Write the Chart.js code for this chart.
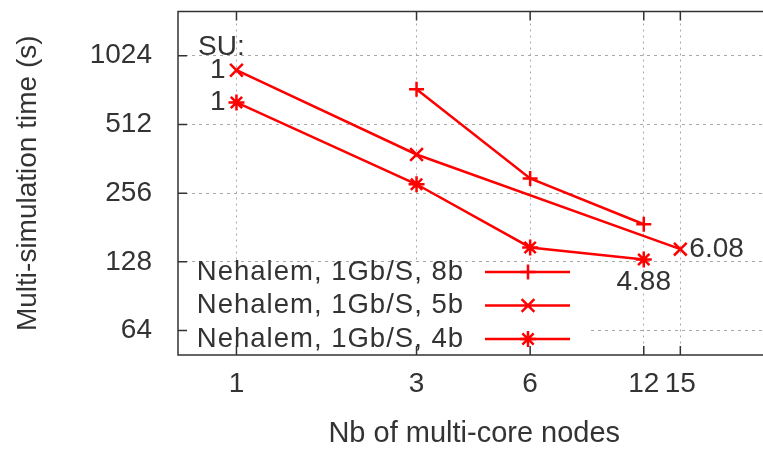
<!DOCTYPE html>
<html>
<head>
<meta charset="utf-8">
<script src="https://cdn.jsdelivr.net/npm/chart.js@4/dist/chart.umd.js"></script>
<style>
  html, body { margin: 0; padding: 0; overflow: hidden; background: #fff; }
  #multiSim { display: block; width: 782px; height: 451px; }
</style>
</head>
<body>
<canvas id="multiSim" width="782" height="451"></canvas>
<script>
// datos
const nodos = [1, 3, 6, 12, 15];
const ticksY = [64, 128, 256, 512, 1024];
const etiquetas = ['Nehalem, 1Gb/S, 8b', 'Nehalem, 1Gb/S, 5b', 'Nehalem, 1Gb/S, 4b'];
const tiempos8b = [null, 730, 297, 187, null];
const tiempos5b = [885, 378, null, null, 145.5];
const tiempos4b = [639, 280, 148, 131, null];
const su5b = ['1', null, null, null, '6.08'];
const su4b = ['1', null, null, '4.88', null];

const ROJO = '#ff0000';
const TEXTO = '#333333';
const FUENTE = 'Liberation Sans';
const INVISIBLE = 'rgba(0,0,0,0)';

function puntos(valores) {
  return nodos.map((x, i) => ({ x: x, y: valores[i] })).filter(p => p.y !== null);
}

function dibujarMarca(ctx, estilo, x, y, r) {
  ctx.beginPath();
  if (estilo === 'cross' || estilo === 'star') {
    ctx.moveTo(x - r, y); ctx.lineTo(x + r, y);
    ctx.moveTo(x, y - r); ctx.lineTo(x, y + r);
  }
  if (estilo === 'crossRot' || estilo === 'star') {
    const d = r * 0.707;
    ctx.moveTo(x - d, y - d); ctx.lineTo(x + d, y + d);
    ctx.moveTo(x - d, y + d); ctx.lineTo(x + d, y - d);
  }
  ctx.stroke();
}

const estilosGnuplot = {
  id: 'estilosGnuplot',
  afterDatasetsDraw(chart) {
    const ctx = chart.ctx;
    const a = chart.chartArea;
    const sx = chart.scales.x, sy = chart.scales.y;
    ctx.save();

    // leyenda dentro del area
    ctx.fillStyle = '#fff';
    ctx.fillRect(a.left + 2, a.bottom - 93, 407, 92);
    ctx.font = '27.5px "' + FUENTE + '"';
    ctx.letterSpacing = '1px';
    ctx.textAlign = 'right';
    ctx.textBaseline = 'middle';
    chart.data.datasets.forEach((ds, i) => {
      const yy = a.bottom - 83 + i * 33.5;
      ctx.fillStyle = TEXTO;
      ctx.fillText(ds.label, 464, yy);
      ctx.strokeStyle = ROJO;
      ctx.lineWidth = 2.5;
      ctx.beginPath();
      ctx.moveTo(485, yy); ctx.lineTo(570, yy);
      ctx.stroke();
      dibujarMarca(ctx, ds.pointStyle, 528, yy, ds.pointRadius);
    });
    ctx.letterSpacing = '0px';

    // marco (el lado derecho queda fuera de la imagen) y marcas de ejes
    ctx.strokeStyle = '#333';
    ctx.lineWidth = 1.5;
    ctx.beginPath();
    ctx.moveTo(a.right, a.top); ctx.lineTo(a.left, a.top);
    ctx.lineTo(a.left, a.bottom); ctx.lineTo(a.right, a.bottom);
    ticksY.forEach(v => {
      const py = sy.getPixelForValue(v);
      ctx.moveTo(a.left, py); ctx.lineTo(a.left + 9, py);
    });
    nodos.forEach(v => {
      const px = sx.getPixelForValue(v);
      ctx.moveTo(px, a.bottom); ctx.lineTo(px, a.bottom - 9);
      ctx.moveTo(px, a.top); ctx.lineTo(px, a.top + 9);
    });
    ctx.stroke();

    // speed-up
    ctx.fillStyle = TEXTO;
    ctx.font = '28px "' + FUENTE + '"';
    ctx.textAlign = 'center';
    ctx.fillText('SU:', sx.getPixelForValue(1) - 15, sy.getPixelForValue(1024) - 8);
    const anotar = (textos, valores) => {
      textos.forEach((t, i) => {
        if (t === null) return;
        const px = sx.getPixelForValue(nodos[i]);
        const py = sy.getPixelForValue(valores[i]);
        if (i === 0) { ctx.textAlign = 'right'; ctx.fillText(t, px - 11, py); }
        else if (i === nodos.length - 1) { ctx.textAlign = 'left'; ctx.fillText(t, px + 9, py); }
        else { ctx.textAlign = 'center'; ctx.fillText(t, px, py + 23); }
      });
    };
    anotar(su5b, tiempos5b);
    anotar(su4b, tiempos4b);
    ctx.restore();
  }
};

const serie = (label, valores, estilo, radio) => ({
  label: label,
  data: puntos(valores),
  borderColor: ROJO,
  backgroundColor: ROJO,
  borderWidth: 2.5,
  pointStyle: estilo,
  pointRadius: radio,
  pointBorderWidth: 2.5,
  pointBorderColor: ROJO,
  tension: 0,
  fill: false
});

const grafica = new Chart(document.getElementById('multiSim'), {
  type: 'line',
  data: {
    datasets: [
      serie(etiquetas[0], tiempos8b, 'cross', 7.5),
      serie(etiquetas[1], tiempos5b, 'crossRot', 9),
      serie(etiquetas[2], tiempos4b, 'star', 8)
    ]
  },
  options: {
    responsive: false,
    animation: false,
    devicePixelRatio: 1,
    layout: { padding: { left: 0, top: 6, right: 5, bottom: 0 } },
    plugins: { legend: { display: false }, tooltip: { enabled: false } },
    scales: {
      x: {
        type: 'logarithmic',
        min: 0.7,
        max: 26,
        afterBuildTicks: s => { s.ticks = nodos.map(v => ({ value: v })); },
        afterFit: s => { s.height = 96; },
        ticks: {
          autoSkip: false,
          maxRotation: 0,
          padding: 0,
          color: TEXTO,
          font: { family: FUENTE, size: 28 },
          callback: v => String(v)
        },
        grid: { color: '#a8a8a8', lineWidth: 1, drawTicks: true, tickLength: 12, tickColor: INVISIBLE },
        border: { display: false, dash: [2, 4] },
        title: {
          display: true,
          text: 'Nb of multi-core nodes',
          color: TEXTO,
          font: { family: FUENTE, size: 29 },
          padding: { top: 0, bottom: 0 }
        }
      },
      y: {
        type: 'logarithmic',
        min: 50,
        max: 1600,
        afterBuildTicks: s => { s.ticks = ticksY.map(v => ({ value: v })); },
        afterFit: s => { s.width = 178; },
        ticks: {
          padding: 0,
          color: TEXTO,
          font: { family: FUENTE, size: 28, lineHeight: 0.1 },
          callback: v => String(v)
        },
        grid: { color: '#a8a8a8', lineWidth: 1, drawTicks: true, tickLength: 26, tickColor: INVISIBLE },
        border: { display: false, dash: [3, 4] },
        title: {
          display: true,
          text: 'Multi-simulation time (s)',
          color: TEXTO,
          font: { family: FUENTE, size: 28 },
          padding: { top: 11, bottom: 0 }
        }
      }
    }
  },
  plugins: [estilosGnuplot]
});
</script>
</body>
</html>
